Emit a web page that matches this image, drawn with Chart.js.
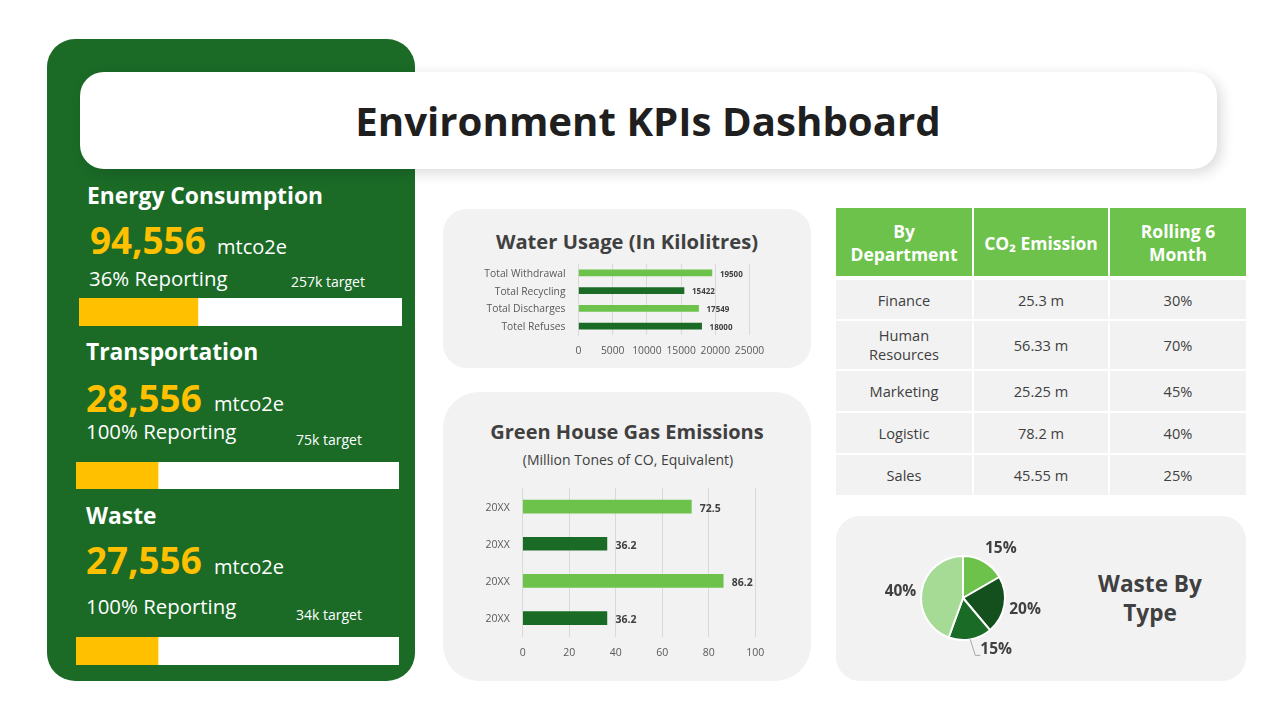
<!DOCTYPE html>
<html>
<head>
<meta charset="utf-8">
<title>Environment KPIs Dashboard</title>
<script src="https://cdn.jsdelivr.net/npm/chart.js@4"></script>
<style>
  html, body { margin: 0; padding: 0; background: #fff; }
  body { width: 1280px; height: 720px; position: relative; overflow: hidden; font-family: "Open Sans", sans-serif; }
  .box, .txt, canvas, table { position: absolute; }
  .txt { white-space: nowrap; line-height: 1; transform: translateY(-50%); }
  .ctr { text-align: center; transform: translate(-50%, -50%); }
  .head { color: #fff; font-weight: 700; font-size: 22.8px; }
  .num { color: #ffc000; font-weight: 700; font-size: 36.8px; }
  .unit { color: #fff; font-size: 20px; }
  .rep { color: #fff; font-size: 20.4px; }
  .tgt { color: #fff; font-size: 14px; }
  .card { background: #f2f2f2; }
  .ttl { color: #404040; font-weight: 700; }
  table { left: 834px; top: 206px; width: 412px; border-collapse: collapse; table-layout: fixed; }
  td, th { text-align: center; padding: 0; border: 2px solid #fff; }
  th { background: #6cc24a; color: #fff; font-size: 17.5px; line-height: 23px; height: 71px; padding-top: 2px; box-sizing: border-box; }
  td { background: #f2f2f2; color: #404040; font-size: 14.6px; line-height: 19px; }
  tr:nth-child(2) td { border-top-width: 4px; padding-top: 2px; }
</style>
</head>
<body>
<div class="box" style="left:47px;top:39px;width:368px;height:642px;border-radius:28px;background:#1b6b27"></div>
<div class="box" style="left:80px;top:72px;width:1137px;height:97px;border-radius:24px;background:#fff;box-shadow:4px 4px 14px rgba(0,0,0,.15)"></div>
<div class="txt ctr" style="left:648px;top:121px;font-size:40.2px;font-weight:700;color:#1f1f1f">Environment KPIs Dashboard</div>

<div id="kpis"></div>

<div class="box card" style="left:443px;top:209px;width:368px;height:159px;border-radius:24px"></div>
<div class="txt ctr ttl" style="left:627px;top:241px;font-size:20.2px">Water Usage (In Kilolitres)</div>
<canvas id="waterChart" width="368" height="159" style="left:443px;top:209px"></canvas>

<div class="box card" style="left:443px;top:392px;width:368px;height:289px;border-radius:36px"></div>
<div class="txt ctr ttl" style="left:627px;top:432px;font-size:20px">Green House Gas Emissions</div>
<div class="txt ctr" style="left:628px;top:460px;font-size:14px;color:#404040">(Million Tones of CO, Equivalent)</div>
<canvas id="ghgChart" width="368" height="289" style="left:443px;top:392px"></canvas>

<table id="deptTable"></table>

<div class="box card" style="left:836px;top:516px;width:410px;height:165px;border-radius:24px"></div>
<canvas id="wasteChart" width="186" height="156" style="left:870px;top:520px"></canvas>
<div class="txt ctr ttl" style="left:1150px;top:584px;font-size:22.6px">Waste By</div>
<div class="txt ctr ttl" style="left:1150px;top:613px;font-size:22.6px">Type</div>

<script>
const waterCategories = ['Total Withdrawal', 'Total Recycling', 'Total Discharges', 'Totel Refuses'];
const waterValues = [19500, 15422, 17549, 18000];

const ghgCategories = ['20XX', '20XX', '20XX', '20XX'];
const ghgValues = [72.5, 36.2, 86.2, 36.2];

const wasteLabels = ['15%', '20%', '15%', '40%'];
const wasteValues = [15, 20, 15, 40];

const departments = ['Finance', 'Human<br>Resources', 'Marketing', 'Logistic', 'Sales'];
const co2Emission = ['25.3 m', '56.33 m', '25.25 m', '78.2 m', '45.55 m'];
const rolling6Month = ['30%', '70%', '45%', '40%', '25%'];

const kpiNames = ['Energy Consumption', 'Transportation', 'Waste'];
const kpiNumbers = ['94,556', '28,556', '27,556'];
const kpiReporting = ['36% Reporting', '100% Reporting', '100% Reporting'];
const kpiTargets = ['257k target', '75k target', '34k target'];
const kpiFilled = [36.8, 25.4, 25.4];

const LIGHT = '#6cc24a';
const DARK = '#1a6b26';
const GRID = '#d9d9d9';
const FONT = '"Open Sans", sans-serif';

Chart.defaults.font.family = FONT;
Chart.defaults.animation = false;
Chart.defaults.responsive = false;
Chart.defaults.plugins.legend.display = false;
Chart.defaults.plugins.tooltip.enabled = false;

// where each left panel block sits: name, number, unit, reporting, target, bar
const kpiLayout = [
    { nx: 87, ny: 195.5, vx: 90, vy: 240, ux: 217, uy: 247, rx: 89, ry: 278, tx: 291, ty: 282, bx: 79, by: 298, bh: 28 },
    { nx: 86, ny: 351.5, vx: 86, vy: 398, ux: 214, uy: 404, rx: 86, ry: 431, tx: 296, ty: 440, bx: 76, by: 462, bh: 27 },
    { nx: 86, ny: 515.5, vx: 86, vy: 560, ux: 214, uy: 567, rx: 86, ry: 606, tx: 296, ty: 615, bx: 76, by: 637, bh: 28 }
];

function addText(parent, cls, x, y, text) {
    const el = document.createElement('div');
    el.className = 'txt ' + cls;
    el.style.left = x + 'px';
    el.style.top = y + 'px';
    el.textContent = text;
    parent.appendChild(el);
}

const kpis = document.getElementById('kpis');
kpiNames.forEach(function (name, i) {
    const p = kpiLayout[i];
    addText(kpis, 'head', p.nx, p.ny, name);
    addText(kpis, 'num', p.vx, p.vy, kpiNumbers[i]);
    addText(kpis, 'unit', p.ux, p.uy, 'mtco2e');
    addText(kpis, 'rep', p.rx, p.ry, kpiReporting[i]);
    addText(kpis, 'tgt', p.tx, p.ty, kpiTargets[i]);

    const c = document.createElement('canvas');
    c.width = 323;
    c.height = p.bh;
    c.style.left = p.bx + 'px';
    c.style.top = p.by + 'px';
    kpis.appendChild(c);
    new Chart(c, {
        type: 'bar',
        data: {
            labels: [name],
            datasets: [
                { data: [kpiFilled[i]], backgroundColor: '#ffc000', barPercentage: 1, categoryPercentage: 1 },
                { data: [100 - kpiFilled[i]], backgroundColor: '#ffffff', barPercentage: 1, categoryPercentage: 1 }
            ]
        },
        options: {
            indexAxis: 'y',
            layout: { padding: 0 },
            scales: {
                x: { display: false, stacked: true, min: 0, max: 100 },
                y: { display: false, stacked: true }
            }
        }
    });
});

const colgroup = '<colgroup><col style="width:138px"><col style="width:136px"><col style="width:138px"></colgroup>';
const header = '<tr><th>By<br>Department</th><th>CO\u2082 Emission</th><th>Rolling 6<br>Month</th></tr>';
const rowHeights = [42, 50, 42, 42, 42];
document.getElementById('deptTable').innerHTML = colgroup + header + departments.map(function (d, i) {
    return '<tr style="height:' + rowHeights[i] + 'px"><td>' + d + '</td><td>' + co2Emission[i] + '</td><td>' + rolling6Month[i] + '</td></tr>';
}).join('');

// value labels at the end of each bar
const barValueLabels = {
    id: 'barValueLabels',
    afterDatasetsDraw: function (chart, args, opts) {
        const ctx = chart.ctx;
        const meta = chart.getDatasetMeta(0);
        ctx.save();
        ctx.font = 'bold ' + opts.size + 'px ' + FONT;
        ctx.fillStyle = '#404040';
        ctx.textBaseline = 'middle';
        meta.data.forEach(function (bar, i) {
            ctx.fillText(chart.data.datasets[0].data[i], bar.x + opts.gap, bar.y + opts.drop);
        });
        ctx.restore();
    }
};

function barOptions(tickMax, step, yWidth, plot, style) {
    return {
        indexAxis: 'y',
        layout: { padding: plot },
        plugins: { barValueLabels: { size: style.label, gap: style.gap, drop: style.drop } },
        scales: {
            x: {
                min: 0,
                max: tickMax,
                ticks: {
                    stepSize: step,
                    color: '#595959',
                    font: { size: style.tick },
                    padding: 10,
                    maxRotation: 0,
                    callback: function (v) { return String(v); }
                },
                grid: { color: GRID, drawTicks: false },
                border: { display: false },
                afterFit: function (s) {
                    s.height = style.xHeight;
                    s.paddingLeft = 0;
                    s.paddingRight = 0;
                }
            },
            y: {
                ticks: { color: '#595959', font: { size: style.tick }, padding: 13, labelOffset: 1 },
                grid: { display: false, drawTicks: false },
                border: { color: GRID },
                afterFit: function (s) { s.width = yWidth; }
            }
        }
    };
}

new Chart(document.getElementById('waterChart'), {
    type: 'bar',
    plugins: [barValueLabels],
    data: {
        labels: waterCategories,
        datasets: [{ data: waterValues, backgroundColor: [LIGHT, DARK, LIGHT, DARK], barThickness: 6 }]
    },
    options: barOptions(25000, 5000, 135.5, { left: 0, top: 55, right: 61.5, bottom: 0 }, { tick: 10.3, label: 8, gap: 8, drop: 1.5, xHeight: 33 })
});

new Chart(document.getElementById('ghgChart'), {
    type: 'bar',
    plugins: [barValueLabels],
    data: {
        labels: ghgCategories,
        datasets: [{ data: ghgValues, backgroundColor: [LIGHT, DARK, LIGHT, DARK], barThickness: 13 }]
    },
    options: barOptions(100, 20, 79.7, { left: 0, top: 96, right: 55.7, bottom: 0 }, { tick: 10.5, label: 10.5, gap: 8.5, drop: 2, xHeight: 44.3 })
});

// percent labels round the pie, third one is pulled out on a leader line
const pieLabels = {
    id: 'pieLabels',
    afterDatasetsDraw: function (chart) {
        const ctx = chart.ctx;
        const shifts = [0.12, 0, 0, -0.05];
        ctx.save();
        ctx.font = 'bold 15.5px ' + FONT;
        ctx.fillStyle = '#404040';
        ctx.textBaseline = 'middle';
        chart.getDatasetMeta(0).data.forEach(function (arc, i) {
            const mid = (arc.startAngle + arc.endAngle) / 2;
            const ex = arc.x + Math.cos(mid) * arc.outerRadius;
            const ey = arc.y + Math.sin(mid) * arc.outerRadius;
            if (i === 2) {
                ctx.strokeStyle = '#a6a6a6';
                ctx.lineWidth = 1;
                ctx.beginPath();
                ctx.moveTo(ex, ey);
                ctx.lineTo(ex + 5, ey + 16);
                ctx.lineTo(ex + 10, ey + 16);
                ctx.stroke();
                ctx.textAlign = 'left';
                ctx.fillText(wasteLabels[i], ex + 10, ey + 10);
                return;
            }
            ctx.textAlign = 'center';
            const a = mid + shifts[i];
            ctx.fillText(wasteLabels[i], arc.x + Math.cos(a) * 63, arc.y + Math.sin(a) * 63 + 1);
        });
        ctx.restore();
    }
};

new Chart(document.getElementById('wasteChart'), {
    type: 'pie',
    plugins: [pieLabels],
    data: {
        labels: wasteLabels,
        datasets: [{
            data: wasteValues,
            backgroundColor: [LIGHT, '#14501e', DARK, '#a6db95'],
            borderColor: '#ffffff',
            borderWidth: 2
        }]
    },
    options: { radius: 42 }
});
</script>
</body>
</html>
